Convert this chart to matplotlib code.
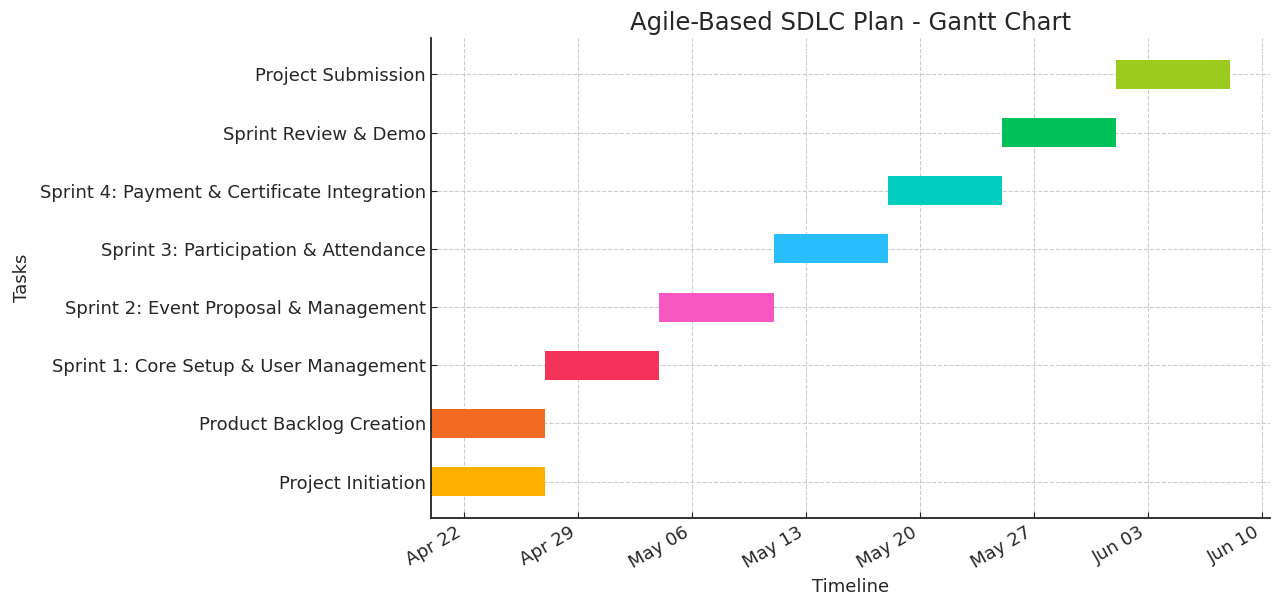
import matplotlib
matplotlib.use("Agg")
import matplotlib.pyplot as plt
import matplotlib.dates as mdates
from datetime import datetime

# Tasks (bottom to top) with start / end dates
tasks = [
    "Project Initiation",
    "Product Backlog Creation",
    "Sprint 1: Core Setup & User Management",
    "Sprint 2: Event Proposal & Management",
    "Sprint 3: Participation & Attendance",
    "Sprint 4: Payment & Certificate Integration",
    "Sprint Review & Demo",
    "Project Submission",
]
starts = ["2024-04-20", "2024-04-20", "2024-04-27", "2024-05-04",
          "2024-05-11", "2024-05-18", "2024-05-25", "2024-06-01"]
ends = ["2024-04-27", "2024-04-27", "2024-05-04", "2024-05-11",
        "2024-05-18", "2024-05-25", "2024-06-01", "2024-06-08"]
colors = ["#FFB000", "#F26B22", "#F5325A", "#F857C1",
          "#29BFFF", "#00CCBF", "#00C157", "#9DCA1F"]

txt = "#262626"
plt.rcParams["text.color"] = txt
plt.rcParams["axes.labelcolor"] = txt
plt.rcParams["xtick.color"] = txt
plt.rcParams["ytick.color"] = txt

fig, ax = plt.subplots(figsize=(12.8, 6.08), dpi=100)

start_d = [mdates.date2num(datetime.strptime(s, "%Y-%m-%d")) for s in starts]
end_d = [mdates.date2num(datetime.strptime(e, "%Y-%m-%d")) for e in ends]
widths = [e - s for s, e in zip(start_d, end_d)]

ax.barh(range(len(tasks)), widths, left=start_d, height=0.5, color=colors)

ax.set_yticks(range(len(tasks)))
ax.set_yticklabels(tasks, fontsize=13)

ax.xaxis_date()
ax.xaxis.set_major_locator(mdates.WeekdayLocator(byweekday=mdates.MO))
ax.xaxis.set_major_formatter(mdates.DateFormatter("%b %d"))
plt.setp(ax.get_xticklabels(), rotation=30, ha="right", fontsize=13)

ax.tick_params(direction="in", length=4, pad=4, colors="#222222", labelcolor=txt)
ax.grid(True, linestyle="--", color="#cccccc", linewidth=0.8)
ax.set_axisbelow(True)
for s in ["top", "right"]:
    ax.spines[s].set_visible(False)
for s in ["left", "bottom"]:
    ax.spines[s].set_linewidth(1.3)
    ax.spines[s].set_color("#222222")

ax.set_title("Agile-Based SDLC Plan - Gantt Chart", fontsize=17.5, color=txt)
ax.set_xlabel("Timeline", fontsize=13)
ax.set_ylabel("Tasks", fontsize=13, labelpad=6)

fig.subplots_adjust(left=0.337, right=0.992, top=0.9375, bottom=0.148)
fig.savefig("out.png")
